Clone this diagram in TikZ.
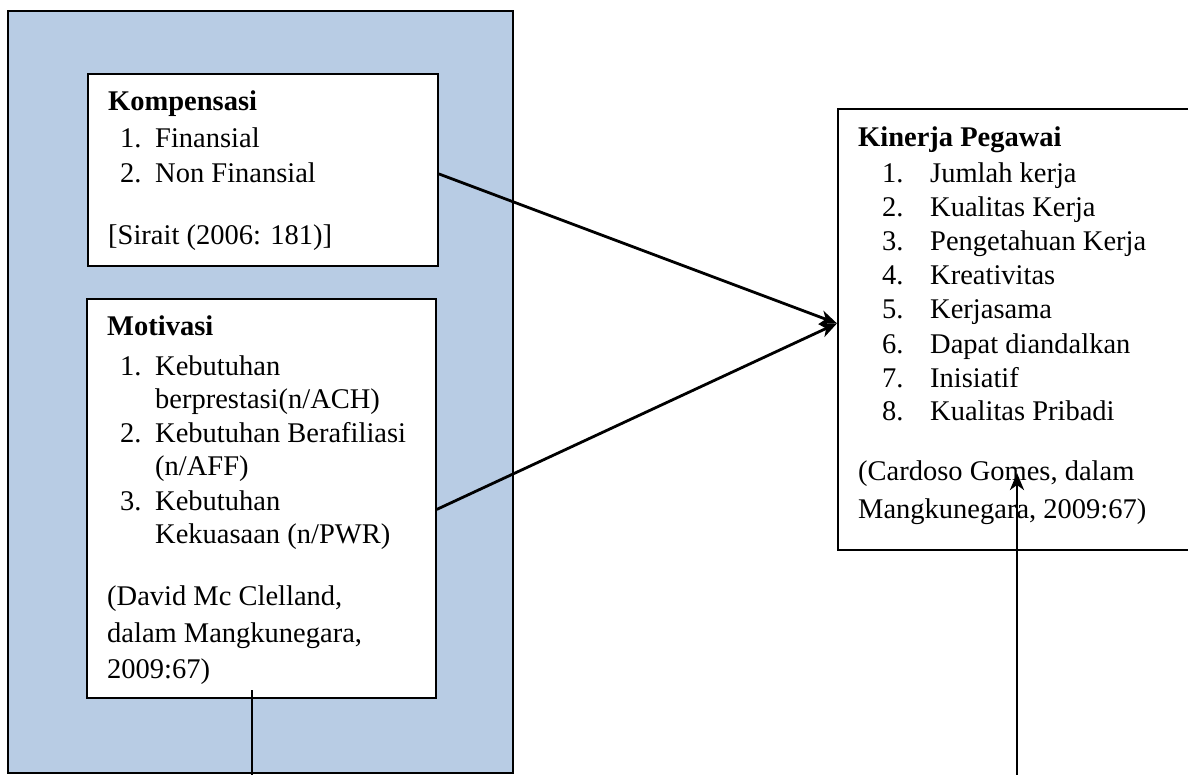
\documentclass[tikz,border=0pt]{standalone}
\usepackage{fontspec}
\setmainfont{Liberation Serif}
\usetikzlibrary{arrows.meta,calc}
\definecolor{bgblue}{HTML}{B8CCE4}
\begin{document}
\begin{tikzpicture}[x=1pt,y=-1pt,
  boxst/.style={draw=black,line width=1.8pt,fill=white,rectangle,inner sep=0pt,anchor=north west},
  txt/.style={anchor=base west,inner sep=0pt,font=\fontsize{28.5}{34}\selectfont},
  hd/.style={txt,font=\fontsize{28.5}{34}\selectfont\bfseries},
  conn/.style={line width=2.8pt,-{Stealth[length=17pt,width=14pt,inset=5pt]}},
  plain/.style={line width=2.5pt}]
\useasboundingbox (0,0) rectangle (1188,775);
\clip (0,0) rectangle (1188,775);
\node[boxst,fill=bgblue,minimum width=505pt,minimum height=762pt] (outer) at (7,10) {};
\node[boxst,minimum width=350pt,minimum height=192pt] (komp) at (87,73) {};
\node[boxst,minimum width=349pt,minimum height=399pt] (mot) at (86,298) {};
\node[boxst,minimum width=370pt,minimum height=441pt] (kin) at (837,108) {};
% Kompensasi text
\node[hd] (k0) at (108,111) {Kompensasi};
\node[txt] (k1n) at (120,148) {1.};
\node[txt] (k1) at (155,148) {Finansial};
\node[txt] (k2n) at (120,183) {2.};
\node[txt] (k2) at (155,183) {Non Finansial};
\node[txt] (k3) at (108,245) {[Sirait (2006: 181)]};
% Motivasi text
\node[hd] (m0) at (107,335) {Motivasi};
\node[txt] (m1n) at (120,375) {1.};
\node[txt] (m1) at (155,375) {Kebutuhan};
\node[txt] (m1b) at (155,408) {berprestasi(n/ACH)};
\node[txt] (m2n) at (120,442) {2.};
\node[txt] (m2) at (155,442) {Kebutuhan Berafiliasi};
\node[txt] (m2b) at (155,475) {(n/AFF)};
\node[txt] (m3n) at (120,510) {3.};
\node[txt] (m3) at (155,510) {Kebutuhan};
\node[txt] (m3b) at (155,543) {Kekuasaan (n/PWR)};
\node[txt] (m4) at (107,605) {(David Mc Clelland,};
\node[txt] (m5) at (107,642) {dalam Mangkunegara,};
\node[txt] (m6) at (107,678) {2009:67)};
% Kinerja text
\node[hd] (p0) at (858,147) {Kinerja Pegawai};
\foreach \n/\t/\y in {1/Jumlah kerja/183,2/Kualitas Kerja/217,3/Pengetahuan Kerja/251,4/Kreativitas/285,5/Kerjasama/319,6/Dapat diandalkan/353,7/Inisiatif/387,8/Kualitas Pribadi/420}{
  \node[txt] (pn\n) at (882,\y) {\n.};
  \node[txt] (p\n) at (930,\y) {\t};
}
\node[txt] (p9) at (858,480) {(Cardoso Gomes, dalam};
\node[txt] (p10) at (858,518) {Mangkunegara, 2009:67)};
% connectors
\coordinate (tip) at ($(kin.west)+(0,-6)$);
\draw[conn] ($(komp.east)+(0,4)$) -- (tip);
\draw[conn] ($(mot.east)+(0,11)$) -- (tip);
\coordinate (mbot) at (252,780);
\coordinate (mtop) at (252,690);
\draw[plain] (mtop) -- (mbot);
\coordinate (rbot) at (1017,780);
\coordinate (rtop) at (1017,473);
\draw[conn] (rbot) -- (rtop);
\end{tikzpicture}
\end{document}
